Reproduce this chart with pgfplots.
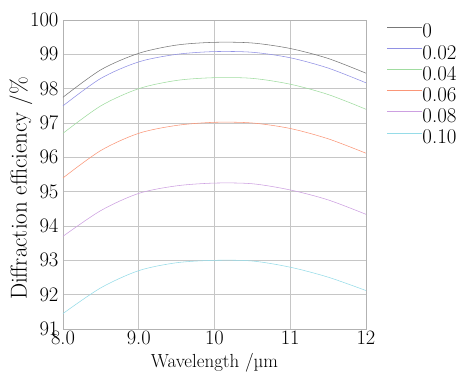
\documentclass[border=0pt]{standalone}
\usepackage{pgfplots}
\pgfplotsset{compat=1.18}
\definecolor{c0}{RGB}{120,120,120}
\definecolor{c1}{RGB}{145,145,228}
\definecolor{c2}{RGB}{160,220,160}
\definecolor{c3}{RGB}{250,150,120}
\definecolor{c4}{RGB}{205,160,225}
\definecolor{c5}{RGB}{150,220,232}
\begin{document}
\begin{tikzpicture}
\path[use as bounding box] (-63bp,-44bp) rectangle (403bp,329bp);
\begin{axis}[
  at={(0,0)}, anchor=south west,
  scale only axis, width=303bp, height=309bp,
  xmin=8, xmax=12, ymin=91, ymax=100,
  xtick={8,9,10,11,12}, xticklabels={8.0,9.0,10,11,12},
  ytick={91,92,...,100},
  grid=major,
  grid style={gray!45, line width=0.6pt},
  axis line style={gray!60, line width=0.6pt},
  major tick length=0pt,
  tick label style={font=\fontsize{20.5}{23}\selectfont},
  xlabel={Wavelength /µm},
  ylabel={Diffraction efficiency /\%},
  every axis x label/.style={font=\fontsize{19}{22}\selectfont, at={(rel axis cs:0.5,-0.1262)}, anchor=base},
  every axis y label/.style={font=\fontsize{23}{26}\selectfont, at={(rel axis cs:-0.1386,0.4547)}, rotate=90, anchor=center},
  xticklabel style={yshift=2pt},
  yticklabel style={xshift=-1pt},
  legend style={draw=none, fill=none, inner sep=0pt, outer sep=0pt,
     at={(1.069,0.981)}, anchor=north west, row sep=9.2bp,
     nodes={font=\fontsize{21}{24}\selectfont, text height=12bp, text depth=0bp, inner sep=0pt}},
  legend cell align=left,
  every axis plot/.append style={line width=0.55pt, smooth,
     legend image code/.code={\draw[##1] (0bp,5bp) -- (35bp,5bp);}},
]
\addplot[c0] coordinates {(8,97.75) (8.5,98.55) (9,99.03) (9.5,99.27) (10,99.35) (10.5,99.33) (11,99.17) (11.5,98.88) (12,98.45)};
\addlegendentry{0}
\addplot[c1] coordinates {(8,97.5) (8.5,98.3) (9,98.78) (9.5,99.0) (10,99.08) (10.5,99.06) (11,98.9) (11.5,98.6) (12,98.17)};
\addlegendentry{0.02}
\addplot[c2] coordinates {(8,96.7) (8.5,97.5) (9,98.0) (9.5,98.24) (10,98.32) (10.5,98.3) (11,98.13) (11.5,97.83) (12,97.4)};
\addlegendentry{0.04}
\addplot[c3] coordinates {(8,95.4) (8.5,96.2) (9,96.7) (9.5,96.93) (10,97.02) (10.5,97.0) (11,96.84) (11.5,96.54) (12,96.12)};
\addlegendentry{0.06}
\addplot[c4] coordinates {(8,93.7) (8.5,94.45) (9,94.95) (9.5,95.17) (10,95.25) (10.5,95.23) (11,95.05) (11.5,94.76) (12,94.34)};
\addlegendentry{0.08}
\addplot[c5] coordinates {(8,91.45) (8.5,92.2) (9,92.7) (9.5,92.93) (10,93.0) (10.5,92.98) (11,92.8) (11.5,92.51) (12,92.12)};
\addlegendentry{0.10}
\end{axis}
\end{tikzpicture}
\end{document}
